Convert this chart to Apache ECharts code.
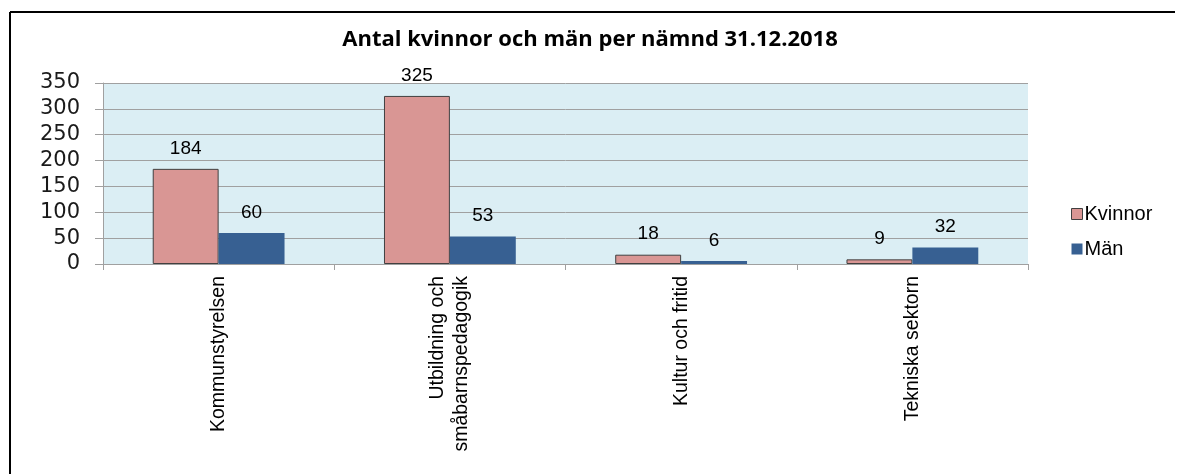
<!DOCTYPE html>
<html>
<head>
<meta charset="utf-8">
<script src="https://cdn.jsdelivr.net/npm/echarts@6/dist/echarts.min.js"></script>
<style>
  html, body { margin: 0; padding: 0; background: #fff; }
  #chart { width: 1180px; height: 474px; }
</style>
</head>
<body>
<div id="chart"></div>
<script>
// data
const categories = ['Kommunstyrelsen', 'Utbildning och\nsmåbarnspedagogik', 'Kultur och fritid', 'Tekniska sektorn'];
const kvinnor = [184, 325, 18, 9];
const man = [60, 53, 6, 32];
const seriesNames = ['Kvinnor', 'Män'];

const labelFont = 'Liberation Sans, Arial, sans-serif';

const chart = echarts.init(document.getElementById('chart'), null, { renderer: 'canvas' });

const option = {
    animation: false,
    backgroundColor: '#ffffff',
    title: {
        text: 'Antal kvinnor och män per nämnd 31.12.2018',
        left: 'center',
        top: 24,
        textStyle: { fontFamily: 'Open Sans, sans-serif', fontWeight: 'bold', fontSize: 22, color: '#000' }
    },
    legend: {
        orient: 'vertical',
        left: 1066,
        top: 199,
        itemWidth: 11,
        itemHeight: 11,
        itemGap: 15,
        icon: 'rect',
        textStyle: { fontFamily: labelFont, fontSize: 20, color: '#000', padding: [0, 0, 0, -3] },
        data: [
            { name: seriesNames[0], itemStyle: { borderColor: '#404040', borderWidth: 1 } },
            { name: seriesNames[1] }
        ]
    },
    grid: { left: 103, right: 152, top: 83, bottom: 210, containLabel: false,
            show: true, backgroundColor: '#dbeef4', borderWidth: 0 },
    xAxis: {
        type: 'category',
        data: categories,
        axisLine: { lineStyle: { color: '#a0a0a0' } },
        axisTick: { show: true, length: 6, lineStyle: { color: '#a0a0a0' } },
        axisLabel: { rotate: 90, margin: 12, fontFamily: labelFont, fontSize: 19.5, color: '#000', lineHeight: 24 }
    },
    yAxis: {
        type: 'value',
        min: 0,
        max: 350,
        interval: 50,
        axisLine: { show: true, lineStyle: { color: '#a0a0a0' } },
        axisTick: { show: true, length: 8, lineStyle: { color: '#a0a0a0' } },
        splitLine: { lineStyle: { color: '#a0a0a0', width: 1 } },
        axisLabel: { margin: 23, fontFamily: 'DejaVu Sans, sans-serif', fontSize: 21, color: '#1a1a1a' }
    },
    series: [
        {
            name: seriesNames[0],
            type: 'bar',
            data: kvinnor,
            barGap: '0%',
            barCategoryGap: '43%',
            itemStyle: { color: '#d99694', borderColor: '#404040', borderWidth: 1 },
            label: { show: true, position: 'top', distance: 11, fontFamily: labelFont, fontSize: 19, color: '#000' }
        },
        {
            name: seriesNames[1],
            type: 'bar',
            data: man,
            itemStyle: { color: '#376092' },
            label: { show: true, position: 'top', distance: 11, fontFamily: labelFont, fontSize: 19, color: '#000' }
        }
    ],
    graphic: [
        { type: 'line', shape: { x1: 10, y1: 12, x2: 1175, y2: 12 }, style: { stroke: '#000', lineWidth: 2 } },
        { type: 'line', shape: { x1: 10, y1: 12, x2: 10, y2: 474 }, style: { stroke: '#000', lineWidth: 2 } }
    ]
};

chart.setOption(option);
</script>
</body>
</html>
